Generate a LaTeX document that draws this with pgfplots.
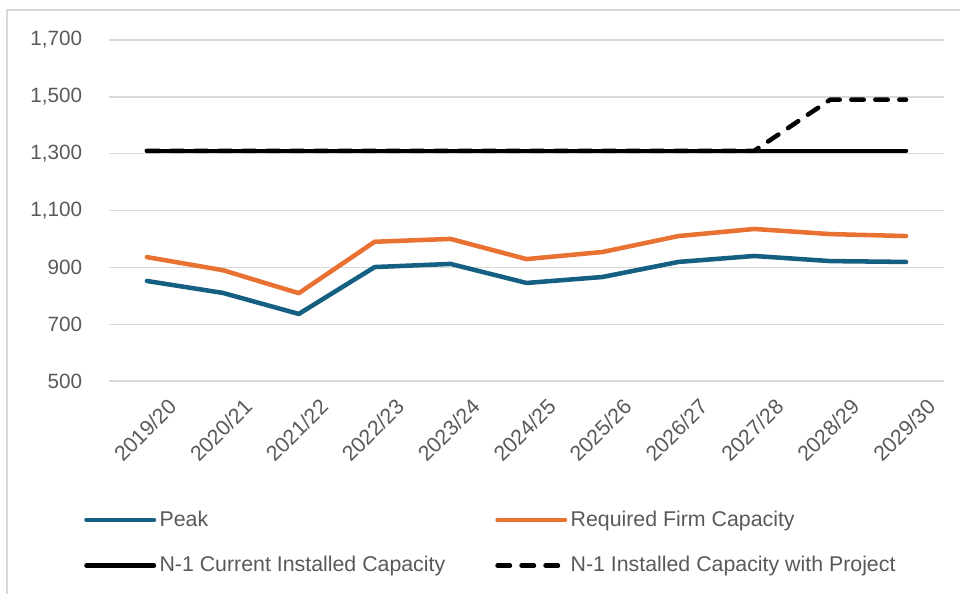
\documentclass[border=0pt]{standalone}
\usepackage{pgfplots}
\pgfplotsset{compat=1.18}
\usepackage{fontspec}
\setmainfont{Liberation Sans}
\definecolor{peakc}{HTML}{156082}
\definecolor{reqc}{HTML}{E97132}
\definecolor{gridc}{HTML}{D9D9D9}
\definecolor{txtc}{HTML}{595959}
\begin{document}
\fontsize{14.5}{17}\selectfont
\begin{tikzpicture}
\useasboundingbox (-81.75pt,-159pt) rectangle (638.25pt,285.75pt);
\draw[gridc, line width=1pt] (-76.5pt,-200pt) -- (-76.5pt,278.25pt) -- (700pt,278.25pt);
\begin{axis}[
  at={(0,0)}, anchor=south west,
  scale only axis, width=626.25pt, height=255.75pt,
  xmin=-0.5, xmax=10.5, ymin=500, ymax=1700,
  xtick={0,...,10},
  xticklabels={2019/20,2020/21,2021/22,2022/23,2023/24,2024/25,2025/26,2026/27,2027/28,2028/29,2029/30},
  ytick={500,700,...,1700},
  axis line style={draw=none},
  tick style={draw=none},
  ymajorgrids, grid style={gridc, line width=1pt},
  /pgf/number format/assume math mode=true,
  /pgf/number format/1000 sep={,},
  yticklabel style={anchor=east, inner sep=0pt, xshift=-20pt, text=txtc, font=\fontsize{15.5}{18}\selectfont},
  xticklabel style={rotate=45, anchor=north east, inner sep=0pt, yshift=-19pt, xshift=2pt, text=txtc, font=\fontsize{16}{19}\selectfont},
  legend columns=2,
  legend cell align=left,
  legend style={at={(-0.03,-0.37)}, anchor=north west, draw=none, fill=none, inner sep=0pt,
    font=\fontsize{16}{19}\selectfont, text=txtc,
    nodes={inner sep=2.5pt},
    /tikz/every even column/.append style={column sep=35pt},
    row sep=15.5pt},
  legend image code/.code={\draw[#1] (0pt,0pt) -- (50.6pt,0pt);},
  every axis plot/.append style={line width=3.4pt, line cap=round, line join=round},
  clip=false,
]
\addplot[peakc] coordinates {(0,852) (1,810) (2,736) (3,901) (4,912) (5,845) (6,866) (7,919) (8,940) (9,922) (10,919)};
\addlegendentry{Peak}
\addplot[reqc] coordinates {(0,936) (1,890) (2,809) (3,990) (4,1000) (5,929) (6,954) (7,1010) (8,1035) (9,1017) (10,1010)};
\addlegendentry{Required Firm Capacity}
\addplot[black] coordinates {(0,1310) (1,1310) (2,1310) (3,1310) (4,1310) (5,1310) (6,1310) (7,1310) (8,1310) (9,1310) (10,1310)};
\addlegendentry{N-1 Current Installed Capacity}
\addplot[black, dash pattern=on 9.3pt off 8.7pt] coordinates {(0,1310) (1,1310) (2,1310) (3,1310) (4,1310) (5,1310) (6,1310) (7,1310) (8,1310) (9,1490) (10,1490)};
\addlegendentry{N-1 Installed Capacity with Project}
\end{axis}
\end{tikzpicture}
\end{document}
